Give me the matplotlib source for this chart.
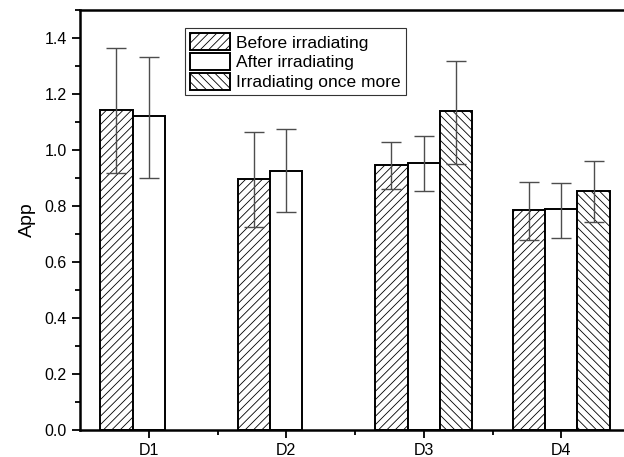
import numpy as np
import matplotlib
matplotlib.use('Agg')
import matplotlib.pyplot as plt
from matplotlib.ticker import MultipleLocator, FormatStrFormatter

plt.rcParams['font.family'] = ['Liberation Sans', 'DejaVu Sans']
plt.rcParams['hatch.linewidth'] = 0.6

# Data
groups = ['D1', 'D2', 'D3', 'D4']
series = ['Before irradiating', 'After irradiating', 'Irradiating once more']

before = [1.143, 0.898, 0.945, 0.784]
before_hi = [1.363, 1.065, 1.027, 0.886]
before_lo = [0.919, 0.726, 0.860, 0.679]

after = [1.120, 0.926, 0.952, 0.788]
after_hi = [1.333, 1.076, 1.049, 0.883]
after_lo = [0.899, 0.777, 0.854, 0.687]

once_more = [np.nan, np.nan, 1.138, 0.852]
once_more_hi = [np.nan, np.nan, 1.319, 0.961]
once_more_lo = [np.nan, np.nan, 0.951, 0.744]

fig = plt.figure(figsize=(6.24, 4.57), dpi=100)
ax = fig.add_axes([80 / 624, 27 / 457, 550 / 624, 420 / 457])

x = np.arange(1, len(groups) + 1)
w = 0.235
hatches = ['////', '', '\\\\\\\\']
vals = [before, after, once_more]
his = [before_hi, after_hi, once_more_hi]
los = [before_lo, after_lo, once_more_lo]

for i in range(3):
    v = np.array(vals[i])
    hi = np.array(his[i])
    lo = np.array(los[i])
    pos = x + (i - 1) * w
    ax.bar(pos, v, w, facecolor='white', edgecolor='black', linewidth=1.4,
           hatch=hatches[i], label=series[i], zorder=2)
    ax.errorbar(pos, v, yerr=[v - lo, hi - v], fmt='none', ecolor='#4d4d4d',
                elinewidth=1.0, capsize=7, capthick=1.0, zorder=3)

ax.set_xlim(0.5, 4.5)
ax.set_ylim(0, 1.5)
ax.set_xticks(x)
ax.set_xticklabels(groups)
ax.set_xticks([1.5, 2.5, 3.5], minor=True)
ax.yaxis.set_minor_locator(MultipleLocator(0.1))
ax.yaxis.set_major_formatter(FormatStrFormatter('%.1f'))
ax.set_yticks(np.arange(0, 1.41, 0.2))

ax.tick_params(axis='both', which='major', direction='out', length=6, width=1.3, labelsize=11.5)
ax.tick_params(axis='both', which='minor', direction='out', length=3.5, width=1.3)
ax.tick_params(top=False, right=False, which='both')

for s in ['left', 'bottom', 'top', 'right']:
    ax.spines[s].set_linewidth(1.8)

ax.set_ylabel('App', fontsize=14, labelpad=6)

leg = ax.legend(loc='upper left', bbox_to_anchor=(0.191, 0.957), borderaxespad=0,
                fancybox=False, framealpha=1, edgecolor='#333333', fontsize=12.5,
                handlelength=2.3, handleheight=1.1, labelspacing=0.15,
                handletextpad=0.35, borderpad=0.3)
leg.get_frame().set_linewidth(0.8)

fig.savefig('out.png', dpi=100)
